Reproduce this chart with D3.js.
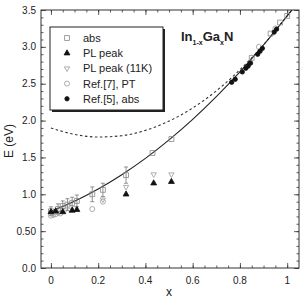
<!DOCTYPE html>
<html>
<head>
<meta charset="utf-8">
<title>InGaN band gap</title>
<style>
  body { margin: 0; background: #fff; }
  text { font-family: "Liberation Sans", Arial, sans-serif; fill: #222; }
</style>
</head>
<body>
<div class="plot_container"></div>
<script src="https://cdn.jsdelivr.net/npm/d3@7/dist/d3.min.js"></script>
<script>
// data
var xTicks = [0, 0.2, 0.4, 0.6, 0.8, 1];
var xTickLabels = ["0", "0.2", "0.4", "0.6", "0.8", "1"];
var yTicks = [0, 0.5, 1, 1.5, 2, 2.5, 3, 3.5];
var yTickLabels = ["0.0", "0.50", "1.0", "1.5", "2.0", "2.5", "3.0", "3.5"];

// solid fit and dashed (old) curve
var curveX = [0, 0.1, 0.2, 0.3, 0.4, 0.5, 0.6, 0.7, 0.8, 0.9, 1.0, 1.02];
var solidE = [0.77, 0.906, 1.071, 1.265, 1.487, 1.738, 2.017, 2.325, 2.661, 3.026, 3.42, 3.50];
var dashedE = [1.90, 1.812, 1.777, 1.795, 1.867, 1.993, 2.171, 2.403, 2.689, 3.028, 3.42, 3.50];

// abs (open squares) with error bars
var absX = [0.0, 0.03, 0.05, 0.07, 0.09, 0.11, 0.175, 0.22, 0.318, 0.43, 0.51, 0.85, 0.93, 0.97, 1.0];
var absE = [0.77, 0.80, 0.84, 0.86, 0.88, 0.91, 1.00, 1.06, 1.26, 1.56, 1.75, 2.85, 3.18, 3.33, 3.42];
var absErr = [0.06, 0.07, 0.07, 0.08, 0.08, 0.08, 0.10, 0.09, 0.11, 0.0, 0.0, 0.0, 0.0, 0.0, 0.0];

// PL peak (filled up triangles)
var plX = [0.0, 0.02, 0.05, 0.09, 0.11, 0.318, 0.435, 0.51];
var plE = [0.76, 0.77, 0.76, 0.78, 0.79, 1.00, 1.15, 1.17];

// PL peak 11K (small open down triangles)
var pl11X = [0.01, 0.03, 0.06, 0.08, 0.10, 0.22, 0.318, 0.435, 0.51];
var pl11E = [0.74, 0.75, 0.78, 0.79, 0.81, 0.93, 1.10, 1.27, 1.27];

// Ref.[7], PT (open circles)
var ptX = [0.0, 0.01, 0.02, 0.04, 0.175, 0.22, 0.88, 0.95];
var ptE = [0.71, 0.72, 0.73, 0.74, 0.80, 0.90, 3.00, 3.25];

// Ref.[5], abs (filled circles)
var r5X = [0.765, 0.78, 0.81, 0.825, 0.835, 0.845, 0.875, 0.885, 0.895, 0.945, 0.955];
var r5E = [2.52, 2.56, 2.66, 2.71, 2.74, 2.78, 2.90, 2.94, 2.98, 3.20, 3.24];

var legendLabels = ["abs", "PL peak", "PL peak (11K)", "Ref.[7], PT", "Ref.[5], abs"];

var width = 304, height = 299;
var margin = {left: 41, right: 5, top: 10, bottom: 31};

var svg = d3.select(".plot_container").append("svg")
    .attr("width", width)
    .attr("height", height);

var x = d3.scaleLinear().domain([-0.042, 1.05]).range([margin.left, width - margin.right]);
var y = d3.scaleLinear().domain([0, 3.5]).range([height - margin.bottom, margin.top]);

var x0 = x.range()[0], x1 = x.range()[1], y0 = y.range()[0], y1 = y.range()[1];

// minor ticks
var xMinor = d3.range(0, 1.0001, 0.05);
var yMinor = d3.range(0, 3.5001, 0.1);

var axisStroke = "#333";

function tickAxes(axis, vals, size) {
    return axis.tickValues(vals).tickSize(size).tickFormat("");
}
// bottom / top
svg.append("g").attr("transform", "translate(0," + y0 + ")")
    .call(tickAxes(d3.axisTop(x), xMinor, 2.5));
svg.append("g").attr("transform", "translate(0," + y0 + ")")
    .call(d3.axisTop(x).tickValues(xTicks).tickSize(5).tickFormat(""));
svg.append("g").attr("transform", "translate(0," + y1 + ")")
    .call(tickAxes(d3.axisBottom(x), xMinor, 2.5));
svg.append("g").attr("transform", "translate(0," + y1 + ")")
    .call(d3.axisBottom(x).tickValues(xTicks).tickSize(5).tickFormat(""));
// left / right
svg.append("g").attr("transform", "translate(" + x0 + ",0)")
    .call(tickAxes(d3.axisRight(y), yMinor, 2.5));
svg.append("g").attr("transform", "translate(" + x0 + ",0)")
    .call(d3.axisRight(y).tickValues(yTicks).tickSize(5).tickFormat(""));
svg.append("g").attr("transform", "translate(" + x1 + ",0)")
    .call(tickAxes(d3.axisLeft(y), yMinor, 2.5));
svg.append("g").attr("transform", "translate(" + x1 + ",0)")
    .call(d3.axisLeft(y).tickValues(yTicks).tickSize(5).tickFormat(""));

svg.selectAll(".domain").remove();
svg.selectAll(".tick line").attr("stroke", axisStroke).attr("stroke-width", 0.8);

svg.append("rect")
    .attr("x", x0).attr("y", y1)
    .attr("width", x1 - x0).attr("height", y0 - y1)
    .attr("fill", "none").attr("stroke", axisStroke).attr("stroke-width", 1);

// tick labels
svg.selectAll(".xlab").data(xTicks).enter().append("text")
    .attr("x", function(d){ return x(d); })
    .attr("y", y0 + 16)
    .attr("text-anchor", "middle")
    .style("font-size", "10px")
    .text(function(d, i){ return xTickLabels[i]; });

svg.selectAll(".ylab").data(yTicks).enter().append("text")
    .attr("x", x0 - 5)
    .attr("y", function(d){ return y(d) + 3.5; })
    .attr("text-anchor", "end")
    .style("font-size", "10px")
    .text(function(d, i){ return yTickLabels[i]; });

svg.append("text")
    .attr("x", (x(0) + x(1)) / 2).attr("y", 296)
    .attr("text-anchor", "middle")
    .style("font-size", "12px")
    .text("x");

svg.append("text")
    .attr("transform", "translate(13,141) rotate(-90)")
    .attr("text-anchor", "middle")
    .style("font-size", "12px")
    .text("E (eV)");

// curves
var clip = svg.append("clipPath").attr("id", "clip").append("rect")
    .attr("x", x0).attr("y", y1).attr("width", x1 - x0).attr("height", y0 - y1);

var line = d3.line().curve(d3.curveMonotoneX)
    .x(function(d){ return x(d[0]); })
    .y(function(d){ return y(d[1]); });

svg.append("path")
    .datum(d3.zip(curveX, dashedE))
    .attr("clip-path", "url(#clip)")
    .attr("d", line)
    .attr("fill", "none").attr("stroke", "#333")
    .attr("stroke-width", 1.1).attr("stroke-dasharray", "2.5,2.5");

svg.append("path")
    .datum(d3.zip(curveX, solidE))
    .attr("clip-path", "url(#clip)")
    .attr("d", line)
    .attr("fill", "none").attr("stroke", "#222")
    .attr("stroke-width", 1.1);

// error bars for abs
var errData = d3.zip(absX, absE, absErr).filter(function(d){ return d[2] > 0; });
var eb = svg.append("g").attr("stroke", "#777").attr("stroke-width", 0.8);
eb.selectAll(".ebv").data(errData).enter().append("line")
    .attr("x1", function(d){ return x(d[0]); })
    .attr("x2", function(d){ return x(d[0]); })
    .attr("y1", function(d){ return y(d[1] - d[2]); })
    .attr("y2", function(d){ return y(d[1] + d[2]); });
eb.selectAll(".ebt").data(errData).enter().append("line")
    .attr("x1", function(d){ return x(d[0]) - 2; })
    .attr("x2", function(d){ return x(d[0]) + 2; })
    .attr("y1", function(d){ return y(d[1] + d[2]); })
    .attr("y2", function(d){ return y(d[1] + d[2]); });
eb.selectAll(".ebb").data(errData).enter().append("line")
    .attr("x1", function(d){ return x(d[0]) - 2; })
    .attr("x2", function(d){ return x(d[0]) + 2; })
    .attr("y1", function(d){ return y(d[1] - d[2]); })
    .attr("y2", function(d){ return y(d[1] - d[2]); });

// marker styles
var styles = [
    {type: d3.symbolSquare, size: 24, fill: "none", stroke: "#888"},
    {type: d3.symbolTriangle, size: 15, fill: "#111", stroke: "#111"},
    {type: d3.symbolTriangle, size: 12, fill: "none", stroke: "#999", rot: 180},
    {type: d3.symbolCircle, size: 20, fill: "none", stroke: "#999"},
    {type: d3.symbolCircle, size: 15, fill: "#111", stroke: "#111"}
];
var series = [
    d3.zip(absX, absE),
    d3.zip(plX, plE),
    d3.zip(pl11X, pl11E),
    d3.zip(ptX, ptE),
    d3.zip(r5X, r5E)
];

function drawMarkers(g, data, st) {
    g.selectAll("path").data(data).enter().append("path")
        .attr("d", d3.symbol().type(st.type).size(st.size))
        .attr("transform", function(d){
            return "translate(" + x(d[0]) + "," + y(d[1]) + ")" + (st.rot ? " rotate(" + st.rot + ")" : "");
        })
        .attr("fill", st.fill).attr("stroke", st.stroke).attr("stroke-width", 0.8);
}
[3, 2, 0, 1, 4].forEach(function(k){
    drawMarkers(svg.append("g"), series[k], styles[k]);
});

// legend
var lg = svg.append("g");
var lx = 50, ly = 27, lw = 113, lh = 83;
lg.append("rect").attr("x", lx + 2).attr("y", ly + 2).attr("width", lw).attr("height", lh)
    .attr("fill", "#222");
lg.append("rect").attr("x", lx).attr("y", ly).attr("width", lw).attr("height", lh)
    .attr("fill", "#fff").attr("stroke", "#222").attr("stroke-width", 1);
legendLabels.forEach(function(t, i){
    var cy = 38 + i * 15.2;
    var st = styles[i];
    lg.append("path")
        .attr("d", d3.symbol().type(st.type).size(st.size))
        .attr("transform", "translate(67," + cy + ")" + (st.rot ? " rotate(" + st.rot + ")" : ""))
        .attr("fill", st.fill).attr("stroke", st.stroke).attr("stroke-width", 0.8);
    lg.append("text").attr("x", 83).attr("y", cy + 4)
        .style("font-size", "11px").text(t);
});

// compound label
var lab = svg.append("text").attr("x", 181).attr("y", 41)
    .style("font-size", "13px").style("font-weight", "bold");
lab.append("tspan").text("In");
lab.append("tspan").attr("dy", 4).style("font-size", "7px").text("1-x");
lab.append("tspan").attr("dy", -4).text("Ga");
lab.append("tspan").attr("dy", 4).style("font-size", "7px").text("x");
lab.append("tspan").attr("dy", -4).text("N");
</script>
</body>
</html>
